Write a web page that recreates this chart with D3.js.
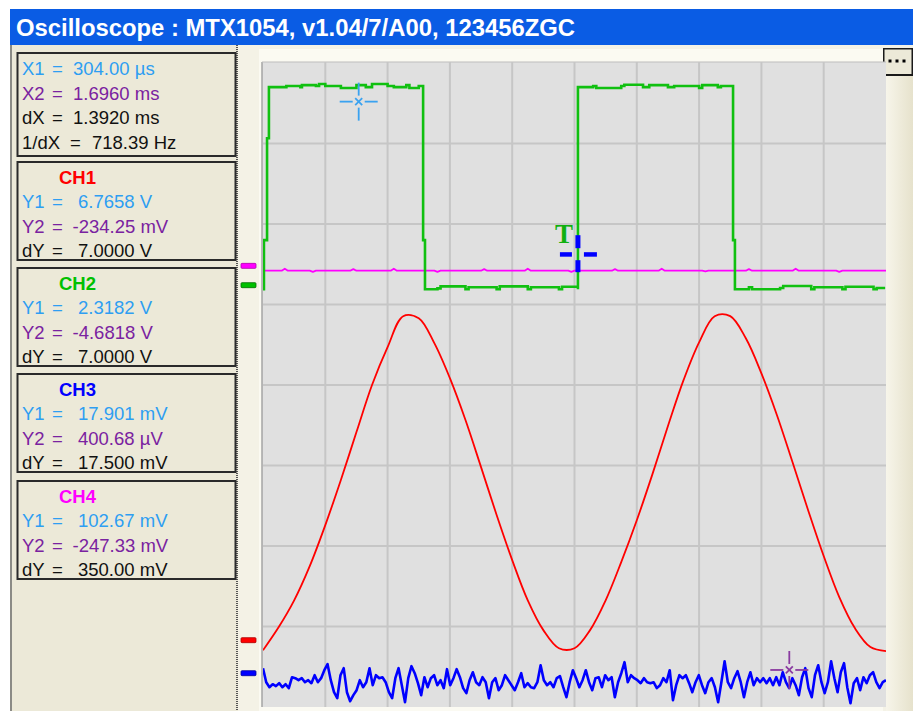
<!DOCTYPE html>
<html><head><meta charset="utf-8">
<script src="https://cdn.jsdelivr.net/npm/d3@7"></script>
<style>body{margin:0;background:#fff;}svg{display:block}</style>
</head><body><svg id="c" width="913" height="711"></svg>
<script>
// ---------------- DATA ----------------
const title = "Oscilloscope : MTX1054, v1.04/7/A00, 123456ZGC";
const cursorNames = ["X1", "X2", "dX", "1/dX"];
const cursorValues = ["304.00 µs", "1.6960 ms", "1.3920 ms", "718.39 Hz"];
const channels = ["CH1", "CH2", "CH3", "CH4"];
const chY1 = ["6.7658 V", "2.3182 V", "17.901 mV", "102.67 mV"];
const chY2 = ["-234.25 mV", "-4.6818 V", "400.68 µV", "-247.33 mV"];
const chDY = ["7.0000 V", "7.0000 V", "17.500 mV", "350.00 mV"];
const X1_ms = 0.304, X2_ms = 1.696;
const timeSpan = [0, 2];              // ms on screen (10 div x 200 µs)
const divisions = [0, 8];
const voltsPerDiv = [2, 2, 10, 200];  // CH1 V, CH2 V, CH3 mV, CH4 mV
const groundDiv = [0.83, 5.24, 0.42, 5.48];
const trigger = {t: 1.011, v: 0.77};

// CH1 (red) sampled every 0.05 ms, volts
const ch1Step = 0.05;
const ch1 = [-0.25,0.32,0.99,1.84,2.86,3.98,5.17,6.34,7.28,8.05,8.00,7.38,6.51,5.47,4.30,3.11,1.99,0.99,0.25,-0.20,
             -0.20,0.25,0.99,1.94,2.98,4.12,5.32,6.46,7.40,8.05,8.05,7.50,6.63,5.59,4.42,3.23,2.09,1.07,0.30,-0.17,-0.27];
// CH2 (green) square wave: time ms, volts
const ch2T = [0,0.003,0.003,0.013,0.013,0.019,0.019,0.07,0.075,0.12,0.125,0.17,0.18,0.2,0.25,0.3,0.33,0.35,0.4,0.42,0.46,0.47,0.5,0.514,
              0.514,0.520,0.520,0.56,0.57,0.65,0.66,0.75,0.76,0.85,0.86,0.95,0.96,1.011,
              1.011,1.06,1.07,1.15,1.16,1.22,1.24,1.30,1.32,1.40,1.41,1.46,1.47,1.509,
              1.509,1.515,1.515,1.56,1.57,1.66,1.67,1.76,1.77,1.86,1.87,1.96,1.97,1.993];
const ch2V = [-0.10,-0.10,1.12,1.12,3.65,3.65,4.92,4.92,4.95,4.92,4.97,4.95,5.00,4.95,4.90,4.97,4.92,5.00,4.95,4.92,4.97,4.90,4.95,4.95,
              1.12,1.12,-0.10,-0.08,-0.03,-0.10,-0.05,-0.10,-0.03,-0.10,-0.05,-0.10,-0.04,-0.10,
              4.92,4.95,4.90,4.95,4.98,4.92,4.97,4.92,4.95,4.90,4.97,4.92,4.95,4.92,
              1.12,1.12,-0.10,-0.05,-0.10,-0.07,-0.02,-0.10,-0.05,-0.10,-0.04,-0.10,-0.07,-0.10];
// CH3 (blue) noise, mV, evenly sampled across the screen
const ch3 = [0.62,-1.12,-1.74,-1.37,-1.61,-1.24,-1.74,-1.37,-1.86,-0.50,-0.62,-0.87,-0.62,-1.12,-0.87,-1.24,-0.25,-1.12,-0.62,0.37,
 1.12,-0.87,-2.36,-3.11,-0.25,0.62,-2.36,-3.48,-2.73,-2.11,-0.87,-1.74,-1.12,0.62,-1.49,-0.25,-0.62,-0.50,-1.12,-2.36,
 -3.11,-0.62,0.62,-1.49,-3.60,-0.62,0.87,0,-1.24,-2.73,-0.50,-1.74,-0.62,-0.25,-1.49,-0.87,-1.86,0.50,-1.49,-0.62,
 0.50,-0.50,-1.86,-2.48,-0.87,0.12,-1.12,-1.49,-0.50,-1.12,
 -3.11,-1.12,-0.62,-2.11,-1.49,-0.25,-0.87,-1.49,-2.11,-1.12,0,-1.74,-1.24,-1.74,-1.86,-1.12,0.99,-0.87,-1.49,-1.12,
 -1.74,-0.62,-0.37,-1.74,-2.98,-1.12,0.37,-0.62,-1.74,-0.87,0.37,-1.12,-2.11,-0.62,-0.50,-1.74,-0.25,-0.87,-0.50,-2.98,
 -1.12,0,1.37,-1.12,-0.25,-0.62,-0.87,-1.24,-0.62,-1.12,-1.24,-1.12,-1.86,-1.49,-0.62,-1.12,0.37,-3.35,-1.49,-0.25,
 -0.62,-0.25,
 -1.24,-2.36,-1.12,-0.25,-1.49,-2.48,-1.12,-0.62,-1.74,-3.60,-1.12,1.49,-1.12,-1.86,-0.62,0.25,-1.12,-2.98,-1.12,0.12,
 -1.49,-0.62,-1.12,-0.62,-1.24,-0.62,-1.49,-0.50,-1.49,0.12,-1.12,-1.86,-0.62,-1.49,-2.73,-0.50,0.62,-1.86,-2.98,-0.25,
 0.99,-1.12,-2.48,-1.12,1.49,-0.62,-2.36,0.12,1.24,-1.74,-3.73,-1.24,-0.62,-2.11,-0.50,-1.24,-0.25,0.12,-1.12,-1.86,
 -1.12,-0.87];
// CH4 (magenta) mV
const ch4T = [0,0.06,0.07,0.08,0.15,0.16,0.17,0.28,0.29,0.3,0.41,0.42,0.43,0.55,0.56,0.57,0.7,0.71,0.72,0.84,0.85,0.86,
              0.98,0.99,1.0,1.12,1.13,1.14,1.27,1.28,1.29,1.41,1.42,1.43,1.55,1.56,1.57,1.7,1.71,1.72,1.84,1.85,1.86,2];
const ch4 = [-12,-12,-7,-12,-12,-15,-12,-12,-8,-12,-12,-7,-12,-12,-15,-12,-12,-8,-12,-12,-7,-12,
             -12,-15,-12,-12,-8,-12,-12,-7,-12,-12,-14,-12,-12,-8,-12,-12,-7,-12,-12,-15,-12,-12];

// ---------------- LAYOUT ----------------
const svg = d3.select("#c");
const PL = 263, PR = 886, PT = 63, PB = 707;
const x = d3.scaleLinear().domain(timeSpan).range([PL, PR]);
const yd = d3.scaleLinear().domain(divisions).range([PB, PT]);
const yCh = i => v => yd(groundDiv[i] + v / voltsPerDiv[i]);

// background areas
svg.append("rect").attr("x",0).attr("y",0).attr("width",913).attr("height",711).attr("fill","#fff");
svg.append("rect").attr("x",10).attr("y",45).attr("width",228).attr("height",666).attr("fill","#ECE9D8");
svg.append("line").attr("x1",11).attr("x2",11).attr("y1",45).attr("y2",711).attr("stroke","#6b6b6b").attr("stroke-width",1.5);
svg.append("rect").attr("x",238).attr("y",45).attr("width",675).attr("height",666).attr("fill","#F4F2E6");
svg.append("rect").attr("x",259).attr("y",49).attr("width",624).attr("height",662).attr("fill","#FBFAF2");
const grad = svg.append("defs").append("linearGradient").attr("id","rg");
grad.append("stop").attr("offset","0").attr("stop-color","#F7F5EA");
grad.append("stop").attr("offset","1").attr("stop-color","#E6E2CC");
svg.append("rect").attr("x",886).attr("y",76).attr("width",27).attr("height",635).attr("fill","url(#rg)");
svg.append("line").attr("x1",237).attr("x2",237).attr("y1",45).attr("y2",711)
  .attr("stroke","#555").attr("stroke-width",2).attr("stroke-dasharray","1,1");

// title bar
svg.append("rect").attr("x",10).attr("y",9).attr("width",903).attr("height",36).attr("fill","#0A5CE4");
svg.append("text").attr("x",16).attr("y",36).text(title)
  .attr("font-family","Liberation Sans, Arial, sans-serif").attr("font-weight","bold")
  .attr("font-size",23).attr("fill","#fff").attr("textLength",559).attr("lengthAdjust","spacingAndGlyphs");

// "..." button
svg.append("rect").attr("x",883).attr("y",48).attr("width",30).attr("height",28).attr("fill","#1a1a1a");
svg.append("rect").attr("x",884.5).attr("y",49.5).attr("width",27).attr("height",24.5).attr("fill","#ECE9D8");
[890, 897, 904].forEach(cx => svg.append("rect").attr("x",cx-1.5).attr("y",59.5).attr("width",3).attr("height",3).attr("fill","#000"));

// plot area
svg.append("rect").attr("x",PL-1).attr("y",PT-1).attr("width",PR-PL+1).attr("height",PB-PT+1).attr("fill","#E0E0E0");
svg.append("line").attr("x1",PL-1).attr("x2",PL-1).attr("y1",PT-1).attr("y2",PB).attr("stroke","#A5A5A5").attr("stroke-width",1.5);
svg.append("line").attr("x1",PL-1).attr("x2",PR).attr("y1",PT-1).attr("y2",PT-1).attr("stroke","#BDBDBD").attr("stroke-width",1);
const grid = svg.append("g").attr("stroke","#C6C6C6").attr("stroke-width",2);
d3.range(1, 10).forEach(i => {
  const gx = x(timeSpan[0] + i * (timeSpan[1]-timeSpan[0]) / 10);
  grid.append("line").attr("x1",gx).attr("x2",gx).attr("y1",PT-1).attr("y2",PB);
});
d3.range(1, 8).forEach(j => grid.append("line").attr("x1",PL).attr("x2",PR).attr("y1",yd(j)).attr("y2",yd(j)));

// channel ground markers
const colors = ["#FF0000", "#00C000", "#0000FF", "#FF00FF"];
const dark = ["#B00000", "#007000", "#0000A0", "#B000B0"];
[0,1,2,3].forEach(i => {
  const gy = yd(groundDiv[i]);
  svg.append("rect").attr("x",241).attr("y",gy-2.5).attr("width",15).attr("height",5)
    .attr("fill",colors[i]).attr("stroke",dark[i]).attr("stroke-width",0.8).attr("rx",1);
});

// traces
svg.append("clipPath").attr("id","pc").append("rect")
  .attr("x",PL).attr("y",PT).attr("width",PR-PL).attr("height",PB-PT);
const tr = svg.append("g").attr("clip-path","url(#pc)").attr("fill","none").attr("stroke-linejoin","round");
// CH4
tr.append("path").attr("d", d3.line().x((d,i)=>x(ch4T[i])).y(d=>yCh(3)(d))(ch4))
  .attr("stroke",colors[3]).attr("stroke-width",1.8);
// CH2
tr.append("path").attr("d", d3.line().curve(d3.curveStepAfter).x((d,i)=>x(ch2T[i])).y(d=>yCh(1)(d))(ch2V))
  .attr("stroke","#10C010").attr("stroke-width",2.6).attr("stroke-linejoin","miter");
// CH1
tr.append("path").attr("d", d3.line().curve(d3.curveCatmullRom).x((d,i)=>x(i*ch1Step)).y(d=>yCh(0)(d))(ch1))
  .attr("stroke",colors[0]).attr("stroke-width",1.8);
// CH3
const ch3Dt = (timeSpan[1]-timeSpan[0]) / (ch3.length - 1);
tr.append("path").attr("d", d3.line().x((d,i)=>x(i*ch3Dt)).y(d=>yCh(2)(d))(ch3))
  .attr("stroke",colors[2]).attr("stroke-width",2.6);

// cursor markers
function cursorMark(cx, cy, col) {
  const g = svg.append("g").attr("stroke",col).attr("stroke-width",1.8);
  g.append("line").attr("x1",cx-19).attr("x2",cx-6).attr("y1",cy).attr("y2",cy);
  g.append("line").attr("x1",cx+6).attr("x2",cx+19).attr("y1",cy).attr("y2",cy);
  g.append("line").attr("x1",cx).attr("x2",cx).attr("y1",cy-19).attr("y2",cy-6);
  g.append("line").attr("x1",cx).attr("x2",cx).attr("y1",cy+6).attr("y2",cy+19);
  g.append("line").attr("x1",cx-3.5).attr("x2",cx+3.5).attr("y1",cy-3.5).attr("y2",cy+3.5);
  g.append("line").attr("x1",cx-3.5).attr("x2",cx+3.5).attr("y1",cy+3.5).attr("y2",cy-3.5);
}
cursorMark(x(X1_ms) + 1, yd(7.52), "#3AA2F0");
cursorMark(x(X2_ms) - 2, yd(0.46), "#8A3AA0");

// trigger marker
const tx = x(trigger.t), ty = yCh(1)(trigger.v);
const tg = svg.append("g").attr("fill","#0000FF");
tg.append("rect").attr("x",tx-2.5).attr("y",ty-19).attr("width",5).attr("height",13);
tg.append("rect").attr("x",tx-2.5).attr("y",ty+6).attr("width",5).attr("height",12);
tg.append("rect").attr("x",tx-18).attr("y",ty-2).attr("width",12).attr("height",4.5);
tg.append("rect").attr("x",tx+6).attr("y",ty-2).attr("width",13).attr("height",4.5);
svg.append("text").attr("x",tx-14).attr("y",ty-11).attr("text-anchor","middle").text("T")
  .attr("font-family","Liberation Serif, serif").attr("font-weight","bold").attr("font-size",27).attr("fill","#10B010");

// ---------------- LEFT PANEL ----------------
const fontF = "Liberation Sans, Arial, sans-serif";
const FS = 18.5;
const cBlue = "#2E9EF2", cPurple = "#7A22A0", cBlack = "#111";
function box(y0, h) {
  svg.append("rect").attr("x",17.5).attr("y",y0).attr("width",218).attr("height",h)
    .attr("fill","none").attr("stroke","#2a2a2a").attr("stroke-width",2);
}
function txt(s, xx, yb, col) {
  svg.append("text").attr("x",xx).attr("y",yb).text(s)
    .attr("font-family",fontF).attr("font-size",FS).attr("fill",col);
}
function row(name, val, yb, col, eqx, vx) {
  txt(name, 22, yb, col);
  txt("=", eqx, yb, col);
  txt(val, val[0] === "-" ? vx - 5.5 : vx, yb, col);
}
box(53, 103);
const cCols = [cBlue, cPurple, cBlack, cBlack];
cursorNames.forEach((n, i) => row(n, cursorValues[i], 75 + i * 24.5, cCols[i], i === 3 ? 70 : 52, i === 3 ? 92 : 73));
const boxTops = [162, 268, 374, 481];
channels.forEach((ch, i) => {
  const T = boxTops[i];
  box(T, 98);
  svg.append("text").attr("x",59).attr("y",T+22).text(ch)
    .attr("font-family",fontF).attr("font-weight","bold").attr("font-size",18.5).attr("fill",colors[i]);
  row("Y1", chY1[i], T+46, cBlue, 52, 78);
  row("Y2", chY2[i], T+71, cPurple, 52, 78);
  row("dY", chDY[i], T+95, cBlack, 52, 78);
});
</script></body></html>
